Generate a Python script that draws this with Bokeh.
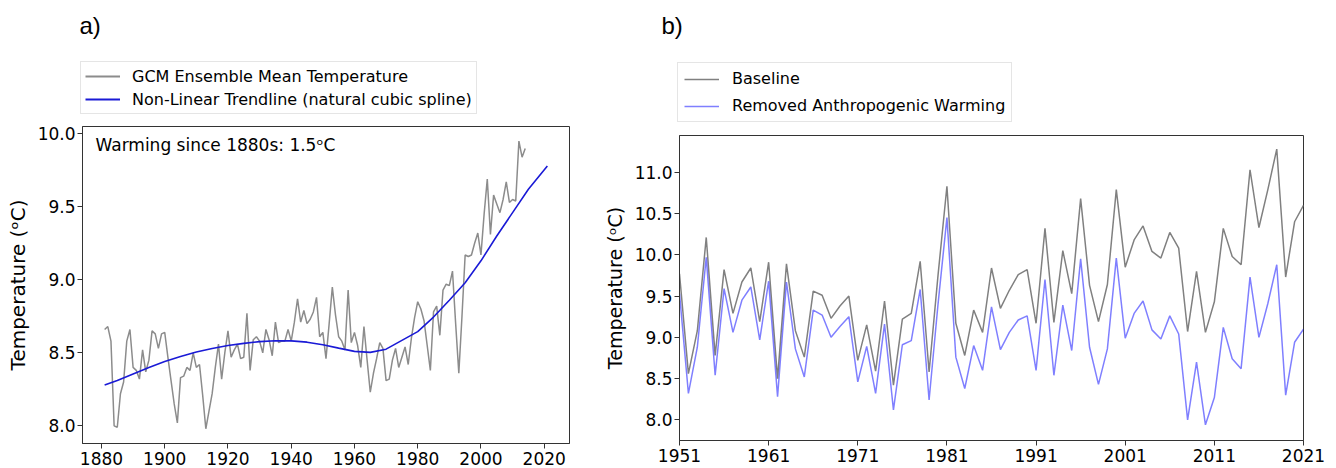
from bokeh.plotting import figure
from bokeh.models import Range1d, FixedTicker, Legend, LegendItem, Label, ColumnDataSource, NumeralTickFormatter
from bokeh.embed import file_html
from bokeh.resources import INLINE

# ---------------- Panel a data ----------------
gcm_years = list(range(1881, 2015))
gcm_temp = [
    8.66, 8.68, 8.58, 8.00, 7.99, 8.22, 8.30, 8.58, 8.66, 8.40,   # 1881-1890
    8.38, 8.32, 8.52, 8.37, 8.45, 8.65, 8.63, 8.53, 8.63, 8.64,   # 1891-1900
    8.47, 8.31, 8.15, 8.02, 8.33, 8.34, 8.40, 8.38, 8.50, 8.40,   # 1901-1910
    8.42, 8.21, 7.98, 8.10, 8.22, 8.40, 8.56, 8.32, 8.50, 8.65,   # 1911-1920
    8.47, 8.52, 8.56, 8.46, 8.47, 8.77, 8.38, 8.59, 8.61, 8.58,   # 1921-1930
    8.50, 8.66, 8.59, 8.48, 8.71, 8.57, 8.58, 8.58, 8.66, 8.58,   # 1931-1940
    8.71, 8.87, 8.71, 8.79, 8.70, 8.73, 8.78, 8.88, 8.61, 8.64,   # 1941-1950
    8.46, 8.70, 8.95, 8.76, 8.61, 8.58, 8.52, 8.93, 8.57, 8.64,   # 1951-1960
    8.55, 8.40, 8.68, 8.45, 8.23, 8.36, 8.46, 8.57, 8.53, 8.31,   # 1961-1970
    8.32, 8.45, 8.53, 8.40, 8.47, 8.54, 8.42, 8.60, 8.74, 8.85,   # 1971-1980
    8.80, 8.72, 8.55, 8.38, 8.78, 8.82, 8.62, 8.93, 8.97, 8.96,   # 1981-1990
    9.06, 8.70, 8.36, 8.75, 9.17, 9.16, 9.17, 9.25, 9.32, 9.17,   # 1991-2000
    9.45, 9.69, 9.31, 9.58, 9.52, 9.46, 9.55, 9.67, 9.53, 9.55,   # 2001-2010
    9.54, 9.95, 9.84, 9.90,                                       # 2011-2014
]
trend_years = [1881, 1885, 1890, 1895, 1900, 1905, 1910, 1915, 1920, 1925,
               1930, 1935, 1940, 1945, 1950, 1955, 1960, 1965, 1970, 1975,
               1980, 1985, 1990, 1995, 2000, 2005, 2010, 2015, 2021]
trend_vals = [8.28, 8.31, 8.355, 8.40, 8.44, 8.475, 8.505, 8.53, 8.55, 8.565,
              8.577, 8.583, 8.582, 8.573, 8.555, 8.532, 8.51, 8.503, 8.525, 8.585,
              8.645, 8.745, 8.86, 8.98, 9.13, 9.30, 9.46, 9.62, 9.78]
a_xticks = [1880, 1900, 1920, 1940, 1960, 1980, 2000, 2020]
a_yticks = [8.0, 8.5, 9.0, 9.5, 10.0]

# ---------------- Panel b data ----------------
b_years = list(range(1951, 2022))
baseline = [
    9.77, 8.56, 9.08, 10.21, 8.78, 9.82, 9.29, 9.67, 9.84, 9.19,   # 1951-1960
    9.91, 8.50, 9.89, 9.08, 8.76, 9.56, 9.51, 9.23, 9.38, 9.50,    # 1961-1970
    8.72, 9.15, 8.59, 9.44, 8.42, 9.22, 9.29, 9.92, 8.58, 9.75,    # 1971-1980
    10.83, 9.17, 8.78, 9.33, 9.06, 9.84, 9.35, 9.57, 9.76, 9.82,   # 1981-1990
    9.17, 10.32, 9.18, 10.05, 9.53, 10.68, 9.63, 9.19, 9.64, 10.79,  # 1991-2000
    9.85, 10.18, 10.35, 10.04, 9.96, 10.27, 10.08, 9.07, 9.80, 9.06,  # 2001-2010
    9.43, 10.32, 9.98, 9.88, 11.03, 10.33, 10.79, 11.28, 9.73, 10.40,  # 2011-2020
    10.60,                                                           # 2021
]
removed = [
    9.53, 8.32, 8.88, 9.97, 8.54, 9.59, 9.06, 9.45, 9.61, 8.97,    # 1951-1960
    9.68, 8.28, 9.67, 8.86, 8.52, 9.33, 9.27, 9.00, 9.13, 9.25,    # 1961-1970
    8.46, 8.89, 8.32, 9.16, 8.12, 8.91, 8.96, 9.58, 8.24, 9.40,    # 1971-1980
    10.45, 8.76, 8.38, 8.90, 8.60, 9.37, 8.85, 9.06, 9.21, 9.26,   # 1981-1990
    8.60, 9.70, 8.54, 9.39, 8.84, 9.95, 8.88, 8.43, 8.86, 9.96,    # 1991-2000
    8.99, 9.29, 9.44, 9.09, 8.98, 9.26, 9.04, 8.00, 8.70, 7.94,    # 2001-2010
    8.27, 9.12, 8.74, 8.62, 9.73, 9.00, 9.41, 9.88, 8.30, 8.94,    # 2011-2020
    9.10,                                                          # 2021
]
b_xticks = [1951, 1961, 1971, 1981, 1991, 2001, 2011, 2021]
b_yticks = [8.0, 8.5, 9.0, 9.5, 10.0, 10.5, 11.0]

YLABEL = "Temperature (\u1d52C)"
TICK_FONT = "17px"
FONT = "DejaVu Sans"

GREY_A = "#8c8c8c"
BLUE_A = "#1a1ad6"
GREY_B = "#808080"
BLUE_B = "#0000ff"


def style_axes(p, xticks, yticks, ylabel, ylabel_size, ylabel_standoff):
    p.outline_line_color = "#333333"
    p.outline_line_width = 1
    p.xgrid.visible = False
    p.ygrid.visible = False
    p.background_fill_color = "white"
    p.border_fill_color = "white"
    for ax in (p.xaxis[0], p.yaxis[0]):
        ax.axis_line_color = "#333333"
        ax.major_tick_line_color = "#333333"
        ax.major_tick_out = 5
        ax.major_tick_in = 0
        ax.minor_tick_line_color = None
        ax.major_label_text_font = FONT
        ax.major_label_text_font_size = TICK_FONT
        ax.major_label_text_color = "black"
    p.xaxis[0].ticker = FixedTicker(ticks=xticks)
    p.yaxis[0].ticker = FixedTicker(ticks=yticks)
    p.yaxis[0].formatter = NumeralTickFormatter(format="0.0")
    p.xaxis[0].major_label_standoff = 3
    p.yaxis[0].major_label_standoff = 2
    p.yaxis[0].axis_label = ylabel
    p.yaxis[0].axis_label_text_font = FONT
    p.yaxis[0].axis_label_text_font_size = ylabel_size
    p.yaxis[0].axis_label_text_font_style = "normal"
    p.yaxis[0].axis_label_text_color = "black"
    p.yaxis[0].axis_label_standoff = ylabel_standoff


def header(width, height):
    # strip above each panel holding the panel tag and the legend; its ranges
    # exclude the data, so the series drawn here only serve as legend keys
    h = figure(width=width, height=height, output_backend="svg", toolbar_location=None,
               x_axis_location=None, y_axis_location=None,
               x_range=Range1d(0, 1), y_range=Range1d(0, 1),
               min_border_left=0, min_border_right=0, min_border_top=0, min_border_bottom=0)
    h.outline_line_color = None
    h.xgrid.visible = False
    h.ygrid.visible = False
    h.background_fill_color = "white"
    h.border_fill_color = "white"
    return h


# ---------------- Panel a ----------------
ha = header(600, 125)
la1 = ha.line(gcm_years, gcm_temp, line_color=GREY_A, line_width=2)
la2 = ha.line(trend_years, trend_vals, line_color=BLUE_A, line_width=2)
ha.add_layout(Legend(items=[LegendItem(label="GCM Ensemble Mean Temperature", renderers=[la1]),
                            LegendItem(label="Non-Linear Trendline (natural cubic spline)", renderers=[la2])],
                     location=(80, 11), margin=0, padding=4, spacing=3,
                     glyph_width=35, glyph_height=20, label_height=20, label_standoff=12,
                     label_text_font=FONT, label_text_font_size="16px", label_text_color="black",
                     border_line_color="#cccccc", border_line_width=1, background_fill_alpha=1.0))
ha.add_layout(Label(x=79, y=125 - 25, x_units="screen", y_units="screen", text="a)",
                    text_font="Liberation Sans", text_font_size="24px", text_color="black",
                    text_baseline="alphabetic"))

pa = figure(width=600, height=343, output_backend="svg", toolbar_location=None,
            x_range=Range1d(1874, 2028), y_range=Range1d(7.879, 10.05),
            min_border_left=82, min_border_right=31, min_border_top=1, min_border_bottom=25)
style_axes(pa, a_xticks, a_yticks, YLABEL, "20px", 5)

src_a = ColumnDataSource(data=dict(year=gcm_years, temp=gcm_temp))
src_t = ColumnDataSource(data=dict(year=trend_years, temp=trend_vals))
pa.line("year", "temp", source=src_a, line_color=GREY_A, line_width=1.5)
pa.line("year", "temp", source=src_t, line_color=BLUE_A, line_width=1.6)

pa.add_layout(Label(x=13, y=443 - 144, x_units="screen", y_units="screen",
                    text="Warming since 1880s: 1.5\u1d52C",
                    text_font=FONT, text_font_size="17px", text_color="black",
                    text_baseline="alphabetic"))

# ---------------- Panel b ----------------
hb = header(736, 134)
lb1 = hb.line(b_years, baseline, line_color=GREY_B, line_width=1.5)
lb2 = hb.line(b_years, removed, line_color=BLUE_B, line_alpha=0.5, line_width=1.5)
hb.add_layout(Legend(items=[LegendItem(label="Baseline", renderers=[lb1]),
                            LegendItem(label="Removed Anthropogenic Warming", renderers=[lb2])],
                     location=(77, 12), margin=0, padding=6, spacing=8,
                     glyph_width=35, glyph_height=18, label_height=18, label_standoff=13,
                     label_text_font=FONT, label_text_font_size="16px", label_text_color="black",
                     border_line_color="#cccccc", border_line_width=1, background_fill_alpha=1.0))
hb.add_layout(Label(x=61, y=134 - 25, x_units="screen", y_units="screen", text="b)",
                    text_font="Liberation Sans", text_font_size="24px", text_color="black",
                    text_baseline="alphabetic"))

pb = figure(width=736, height=334, output_backend="svg", toolbar_location=None,
            x_range=Range1d(1951, 2021), y_range=Range1d(7.75, 11.445),
            min_border_left=78, min_border_right=33, min_border_top=1, min_border_bottom=28)
style_axes(pb, b_xticks, b_yticks, YLABEL, "19px", 6)

src_b = ColumnDataSource(data=dict(year=b_years, base=baseline, rem=removed))
pb.line("year", "base", source=src_b, line_color=GREY_B, line_width=1.5)
pb.line("year", "rem", source=src_b, line_color=BLUE_B, line_alpha=0.5, line_width=1.5)

TEMPLATE = """
{% block contents %}
{% for doc in docs %}
<div style="display:flex;flex-direction:row;align-items:flex-start;">
{% for root in doc.roots %}
{% if loop.index0 % 2 == 0 %}<div style="display:flex;flex-direction:column;flex:none;">{% endif %}
{{ embed(root) }}
{% if loop.index0 % 2 == 1 %}</div>{% endif %}
{% endfor %}
</div>
{% endfor %}
{% endblock %}
"""

open("out.html", "w").write(file_html([ha, pa, hb, pb], INLINE, template=TEMPLATE))
